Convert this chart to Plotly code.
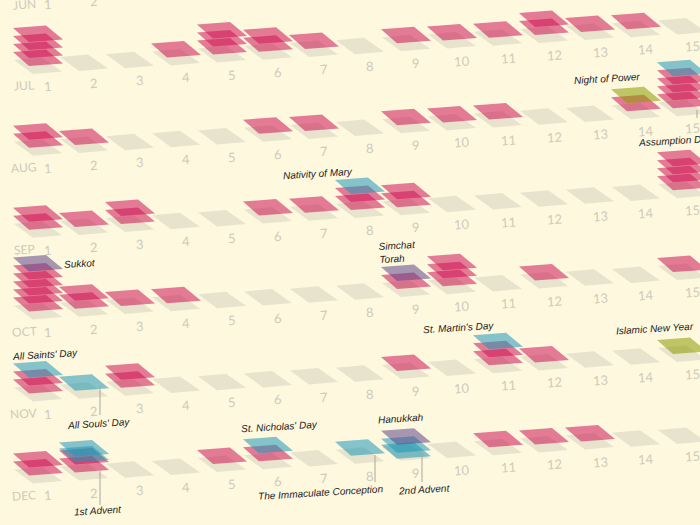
import plotly.graph_objects as go

# ---- data: one entry per day 1..15, bottom-to-top stack of holidays
# p = other, t = Christian, a = Advent Sunday (tucked under the next tile), h = Jewish, g = Islamic
months = ["JUN", "JUL", "AUG", "SEP", "OCT", "NOV", "DEC"]
days = list(range(1, 16))
jun = [""] * 15
jul = ["pppp", "", "", "p", "ppp", "pp", "p", "", "p", "p", "p", "pp", "p", "p", ""]
aug = ["pp", "p", "", "", "", "p", "p", "", "p", "p", "p", "", "", "pg", "ppppt"]
sep = ["pp", "p", "pp", "", "", "p", "p", "ppt", "pp", "", "", "", "", "", "pppp"]
oct_ = ["ppppph", "pp", "p", "p", "", "", "", "", "ph", "ppp", "", "p", "", "", "p"]
nov = ["ppt", "t", "pp", "", "", "", "", "", "p", "", "ppt", "p", "", "", "g"]
dec = ["pp", "ppat", "", "", "p", "pt", "", "t", "ath", "", "p", "p", "p", "", ""]
rows = [jun, jul, aug, sep, oct_, nov, dec]

notes = [
    ("Night of Power", 607, 78, "center"),
    ("Assumption Day", 637, 140, "left"),
    ("Nativity of Mary", 282, 173, "left"),
    ("Simchat<br>Torah", 377, 252, "left"),
    ("Sukkot", 63, 263, "left"),
    ("St. Martin's Day", 422, 327, "left"),
    ("Islamic New Year", 615, 328, "left"),
    ("All Saints' Day", 11, 354, "left"),
    ("All Souls' Day", 66, 423, "left"),
    ("St. Nicholas' Day", 240, 426, "left"),
    ("Hanukkah", 377, 418, "left"),
    ("1st Advent", 73, 510, "left"),
    ("The Immaculate Conception", 257, 492, "left"),
    ("2nd Advent", 397, 489, "left"),
]
leaders = [(697, 110, 118), (100, 385, 415), (100, 470, 505), (375, 455, 482), (422, 450, 482)]

# ---- style / projection
BG = "#FEF8DF"
GROUND = "#E8E3CD"
FILL = {
    "p": "rgba(205,20,85,0.55)",
    "t": "rgba(29,151,182,0.55)",
    "a": "rgba(29,151,182,0.55)",
    "h": "rgba(93,69,136,0.55)",
    "g": "rgba(138,155,0,0.55)",
}
X0, Y0, DX, DY, ROW = 13, -22, 46, -2.82, 81.9
LEVEL = 8
TUCK = 6
TILE_X = [0, 33, 50, 16, 0]
TILE_Y = [0, -2.5, 11.5, 14, 0]
GROUND_X = [1, 29, 49, 20, 1]
GROUND_Y = [0, -2.5, 11.5, 14, 0]


def corner(r, d):
    return X0 + DX * (d - 1), Y0 + ROW * r + DY * (d - 1)


fig = go.Figure()


def tile(x, y, xs, ys, color):
    fig.add_trace(go.Scatter(
        x=[x + v for v in xs], y=[y + v for v in ys],
        mode="lines", fill="toself", fillcolor=color,
        line=dict(width=0, color=color), hoverinfo="skip", showlegend=False,
    ))


for r, row in enumerate(rows):
    if r == 0:
        continue
    for d, stack in zip(days, row):
        x, y = corner(r, d)
        tile(x, y, GROUND_X, GROUND_Y, GROUND)
for r, row in enumerate(rows):
    for d, stack in zip(days, row):
        x, y = corner(r, d)
        k = 0
        for cat in stack:
            if cat == "a":
                tile(x, y - LEVEL * (k + 1) + TUCK, TILE_X, TILE_Y, FILL[cat])
            else:
                k += 1
                tile(x, y - LEVEL * k, TILE_X, TILE_Y, FILL[cat])

ann = []
LABEL = "#CFCBB9"
for r, name in enumerate(months):
    x, y = corner(r, 1)
    ann.append(dict(x=x + 11, y=y + 26, text=name, showarrow=False, textangle=-3.5,
                    font=dict(family="Lato", size=12, color=LABEL)))
    for d in days:
        x, y = corner(r, d)
        ann.append(dict(x=x + 35, y=y + 26, text=str(d), showarrow=False, textangle=-3.5,
                        font=dict(family="Lato", size=13, color=LABEL)))
for text, x, y, anchor in notes:
    ann.append(dict(x=x, y=y, text=text, showarrow=False, xanchor=anchor, align="left",
                    textangle=-3.5, borderpad=0,
                    font=dict(family="Liberation Sans", size=10, color="#222222", style="italic")))

shapes = [dict(type="line", x0=x, x1=x, y0=a, y1=b, line=dict(color="#A9A798", width=1))
          for x, a, b in leaders]

fig.update_layout(
    width=700, height=525, margin=dict(l=0, r=0, t=0, b=0),
    paper_bgcolor=BG, plot_bgcolor=BG, showlegend=False,
    xaxis=dict(range=[0, 700], visible=False, fixedrange=True),
    yaxis=dict(range=[525, 0], visible=False, fixedrange=True),
    annotations=ann, shapes=shapes,
)
fig.write_html("out.html", config={"displayModeBar": False},
               post_script="document.body.style.margin='0';document.body.style.background='%s';" % BG)
